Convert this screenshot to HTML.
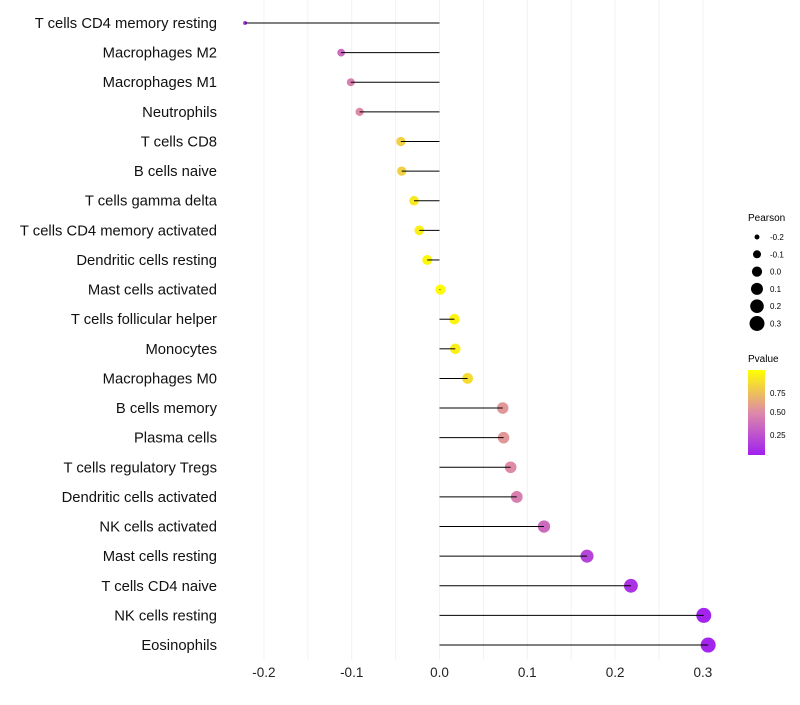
<!DOCTYPE html>
<html><head><meta charset="utf-8"><style>
body{margin:0;background:#fff;font-family:"Liberation Sans",sans-serif}
</style></head><body>
<svg id="c" width="800" height="700" xmlns="http://www.w3.org/2000/svg">
<defs><linearGradient id="pg" x1="0" y1="1" x2="0" y2="0">
<stop offset="0" stop-color="#A020F0"/><stop offset="0.5" stop-color="#DE8AA8"/><stop offset="1" stop-color="#FFFF00"/></linearGradient></defs>
<g id="grid"></g><g id="dots"></g><g id="stems"></g><g id="labels"></g><g id="ticks"></g>
<g font-size="9" fill="#000">
<text x="748" y="221" font-size="10">Pearson</text>
<g id="sizeleg"></g>
</g>
<g>
<text x="748" y="362" font-size="10">Pvalue</text>
<rect x="748" y="370" width="17" height="85" fill="url(#pg)"/>
<text x="770" y="396" font-size="8">0.75</text>
<text x="770" y="415" font-size="8">0.50</text>
<text x="770" y="438" font-size="8">0.25</text>
</g>
</svg>
<script>
const cells=["T cells CD4 memory resting","Macrophages M2","Macrophages M1","Neutrophils","T cells CD8","B cells naive","T cells gamma delta","T cells CD4 memory activated","Dendritic cells resting","Mast cells activated","T cells follicular helper","Monocytes","Macrophages M0","B cells memory","Plasma cells","T cells regulatory  Tregs","Dendritic cells activated","NK cells activated","Mast cells resting","T cells CD4 naive","NK cells resting","Eosinophils"];
const pearson=[-0.2215,-0.112,-0.101,-0.091,-0.044,-0.043,-0.029,-0.023,-0.014,0.001,0.017,0.018,0.032,0.072,0.073,0.081,0.088,0.119,0.168,0.218,0.301,0.306];
const pvalue=[0.1,0.35,0.45,0.5,0.8,0.8,0.9,0.93,0.97,0.99,0.95,0.93,0.85,0.55,0.55,0.5,0.45,0.35,0.17,0.09,0.02,0.02];
const xTicks=[-0.2,-0.1,0.0,0.1,0.2,0.3];
const xMinor=[-0.15,-0.05,0.05,0.15,0.25];
const sizeLeg=[-0.2,-0.1,0.0,0.1,0.2,0.3];
const NS="http://www.w3.org/2000/svg";
const X=v=>439.5+v*878;
const Y=i=>23+i*29.62;
const R=v=>Math.sqrt(Math.max(2.5,26+100*v));
function col(p){const s=[[160,32,240],[222,138,168],[255,255,0]];let t=p*2,a=s[0],b=s[1];if(t>1){t-=1;a=s[1];b=s[2];}return `rgb(${a.map((c,k)=>Math.round(c+(b[k]-c)*t)).join(',')})`;}
function mk(tag,at,par){const e=document.createElementNS(NS,tag);for(const k in at)e.setAttribute(k,at[k]);document.getElementById(par).appendChild(e);return e;}
xTicks.concat(xMinor).forEach(v=>{const l=mk('line',{x1:X(v),x2:X(v),y1:0,y2:660,stroke:'#f2f2f2','stroke-width':1},'grid');

});
xTicks.forEach(v=>{const t=mk('text',{x:X(v),y:677,'text-anchor':'middle','font-size':13.5,fill:'#222'},'ticks');t.textContent=v.toFixed(1);

});
cells.forEach((c,i)=>{
const d=mk('circle',{cx:X(pearson[i]),cy:Y(i),r:R(pearson[i]),fill:col(pvalue[i])},'dots');


const l=mk('line',{x1:X(0),x2:X(pearson[i]),y1:Y(i),y2:Y(i),stroke:'#000','stroke-width':1},'stems');


const t=mk('text',{x:217,y:Y(i)+5,'text-anchor':'end','font-size':14.8,fill:'#111'},'labels');t.textContent=c;

});
sizeLeg.forEach((v,i)=>{const y=237+i*17.3;
const d=mk('circle',{cx:757,cy:y,r:R(v),fill:'#000'},'sizeleg');


const t=mk('text',{x:770,y:y+3,'font-size':8},'sizeleg');t.textContent=v.toFixed(1);

});
</script>
</body></html>
